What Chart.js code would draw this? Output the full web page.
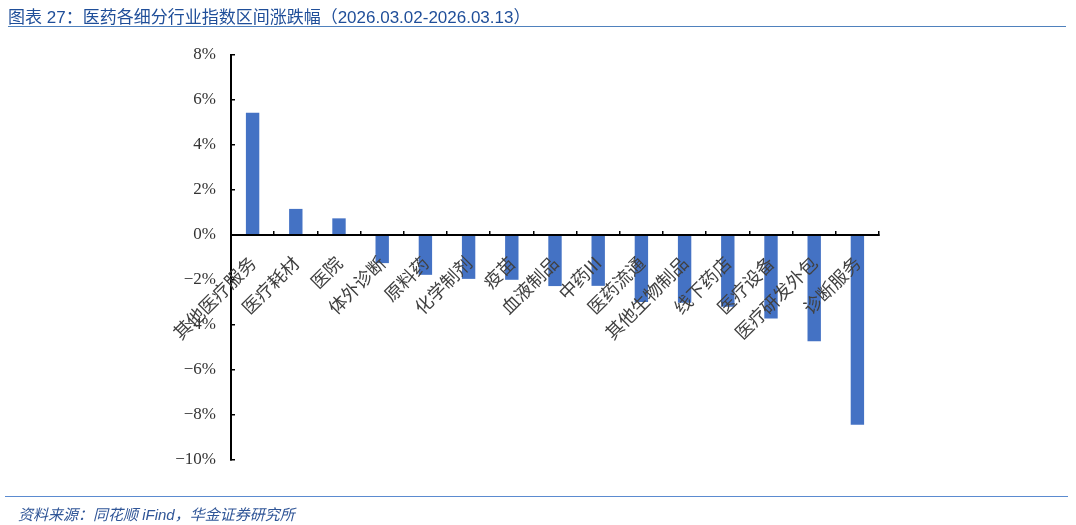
<!DOCTYPE html>
<html>
<head>
<meta charset="utf-8">
<script src="https://cdn.jsdelivr.net/npm/chart.js@4/dist/chart.umd.min.js"></script>
<style>
    body { margin: 0; background: #fff; }
    #wrap { position: relative; width: 1076px; height: 525px; }
    #chart { position: absolute; left: 0; top: 0; }
    .title {
        position: absolute; left: 8px; top: 3px;
        font: 17px "Liberation Sans", "Noto Sans CJK SC", sans-serif;
        color: #1f4e99; white-space: nowrap;
    }
    .rule { position: absolute; height: 0; }
    .source {
        position: absolute; left: 18px; top: 503px;
        font: italic 15px "Liberation Sans", "Noto Sans CJK SC", sans-serif;
        color: #2f5597; white-space: nowrap;
    }
</style>
</head>
<body>
<div id="wrap">
    <canvas id="chart" width="1076" height="525"></canvas>
    <div class="title">图表 27：医药各细分行业指数区间涨跌幅（2026.03.02-2026.03.13）</div>
    <div class="rule" style="left:8px; top:26px; width:1058px; border-top:1.5px solid #4f81bd;"></div>
    <div class="rule" style="left:5px; top:496px; width:1063px; border-top:1px solid #5b8bd0;"></div>
    <div class="source">资料来源：同花顺 iFind，华金证券研究所</div>
</div>
<script>
const categories = ['其他医疗服务', '医疗耗材', '医院', '体外诊断', '原料药', '化学制剂', '疫苗', '血液制品',
    '中药III', '医药流通', '其他生物制品', '线下药店', '医疗设备', '医疗研发外包', '诊断服务'];
const changes = [5.43, 1.16, 0.74, -1.25, -1.77, -1.95, -1.99, -2.27, -2.26, -2.98, -3.01, -3.19, -3.71, -4.72, -8.43]; // %
const yTicks = [8, 6, 4, 2, 0, -2, -4, -6, -8, -10];

const tickFont = { family: '"Liberation Serif", "DejaVu Serif", serif', size: 17 };

new Chart(document.getElementById('chart'), {
    type: 'bar',
    data: {
        labels: categories,
        datasets: [{
            data: changes,
            backgroundColor: '#4472c4',
            categoryPercentage: 1,
            barPercentage: 0.31
        }]
    },
    options: {
        responsive: false,
        animation: false,
        layout: { padding: { left: 0, top: 55, right: 197, bottom: 65 } },
        plugins: { legend: { display: false }, tooltip: { enabled: false } },
        scales: {
            x: {
                position: { y: 0 }, // axis crosses at 0%
                offset: true,
                border: { display: true, color: '#000', width: 2, z: 1 },
                grid: { offset: true, drawOnChartArea: false, tickLength: -5, color: '#000', lineWidth: 1.5, z: 1 },
                ticks: {
                    z: 1, // labels sit on top of the bars
                    autoSkip: false, minRotation: 45, maxRotation: 45, padding: 22,
                    color: '#404040',
                    font: { family: '"Noto Sans CJK SC", sans-serif', size: 18 }
                }
            },
            y: {
                min: Math.min(...yTicks),
                max: Math.max(...yTicks),
                afterFit: scale => { scale.width = 231; },
                afterBuildTicks: scale => { scale.ticks = yTicks.map(v => ({ value: v })); },
                border: { display: true, color: '#000', width: 2 },
                grid: { drawOnChartArea: false, tickLength: -4, color: '#000', lineWidth: 1.5 },
                ticks: {
                    padding: 19, color: '#333', font: tickFont,
                    callback: v => (v < 0 ? '−' : '') + Math.abs(v) + '%'
                }
            }
        }
    }
});
</script>
</body>
</html>
